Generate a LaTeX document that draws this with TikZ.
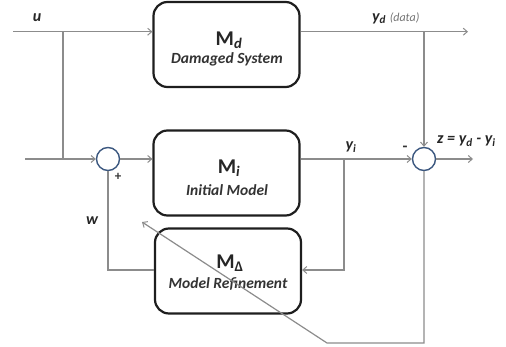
\documentclass[tikz,border=0pt]{standalone}
\usepackage{fontspec}
\setmainfont{Carlito}
\usetikzlibrary{arrows.meta,calc}
\definecolor{linegray}{RGB}{140,140,140}
\definecolor{sumblue}{RGB}{60,88,128}
\definecolor{boxedge}{RGB}{30,30,30}
\begin{document}
\begin{tikzpicture}[x=1pt,y=-1pt,
  block/.style={draw=boxedge,line width=2.2pt,rounded corners=14pt,fill=white,minimum width=146pt,minimum height=85pt,inner sep=0pt},
  sumnode/.style={circle,draw=sumblue,line width=1.4pt,fill=white,minimum size=23pt,inner sep=0pt},
  wire/.style={draw=linegray,line width=1.2pt},
  arr/.style={wire,-{Straight Barb[length=4pt,width=7pt,line width=1pt]}},
  lbl/.style={font=\fontsize{16}{18}\selectfont\bfseries\itshape,text=black!85,inner sep=0pt},
  mtitle/.style={font=\fontsize{21}{23}\selectfont\bfseries,text=black!85,inner sep=0pt},
  msub/.style={font=\fontsize{15.5}{17}\selectfont\bfseries\itshape,text=black!80,inner sep=0pt}
]
\useasboundingbox (0,0) rectangle (506,347);

% blocks
\node[block] (Md) at (226.5,44.5) {};
\node[block] (Mi) at (226.5,173) {};
\node[block] (MD) at (228,271) {};
\node[sumnode] (s1) at (108,159) {};
\node[sumnode] (s2) at (424,159) {};

% block texts
\node[mtitle] (tMd) at (229,40) {M\textsubscript{\itshape d}};
\node[msub] (sMd) at (227,59) {Damaged System};
\node[mtitle] (tMi) at (229,168) {M\textsubscript{\itshape i}};
\node[msub] (sMi) at (227,190) {Initial Model};
\node[mtitle] (tMD) at (230,263) {M\textsubscript{Δ}};
\node[msub] (sMD) at (228,284) {Model Refinement};

% coordinates
\coordinate (uin) at (13,31.7);
\coordinate (ubr) at (63,31.7);
\coordinate (in2) at (25,159);
\coordinate (ubr2) at (63,159);
\coordinate (ydo) at (468,31.7);
\coordinate (ydbr) at (424,31.7);
\coordinate (yibr) at (344,159);
\coordinate (yidn) at (344,270);
\coordinate (wcorner) at (108,270);
\coordinate (zout) at (473,159);
\coordinate (zb) at (424,343);
\coordinate (zl) at (327,343);
\coordinate (ztip) at (142,222);

% connectors
\draw[arr] (uin) -- (uin -| Md.west);
\draw[wire] (ubr) -- (ubr2);
\draw[arr] (in2) -- (s1.west);
\draw[arr] (s1.east) -- (s1.east -| Mi.west);
\draw[arr] (s1 -| Mi.east) -- (s2.west);
\draw[arr] (yibr) -- (yidn) -- (yidn -| MD.east);
\draw[wire] (wcorner -| MD.west) -- (wcorner) -- (s1.south);
\draw[arr] (ydo -| Md.east) -- (ydo);
\draw[arr] (ydbr) -- (s2.north);
\draw[arr] (s2.east) -- (zout);
\draw[arr] (s2.south) -- (zb) -- (zl) -- (ztip);

% labels
\node[lbl] (lu) at (37,18) {u};
\node[lbl] (lw) at (92,221) {w};
\node[font=\fontsize{13}{15}\selectfont\bfseries,text=black!80,inner sep=0pt] (lplus) at (118,177) {+};
\node[lbl] (lyi) at (351,147) {y\textsubscript{i}};
\node[font=\fontsize{16}{18}\selectfont\bfseries,text=black!80,inner sep=0pt] (lminus) at (405,149) {-};
\node[lbl,anchor=west] (lyd) at (372,18) {y\textsubscript{d} {\mdseries\fontsize{12}{14}\selectfont\color{black!55}(data)}};
\node[lbl,anchor=west] (lz) at (437,141) {z = y\textsubscript{d} - y\textsubscript{i}};
\end{tikzpicture}
\end{document}
